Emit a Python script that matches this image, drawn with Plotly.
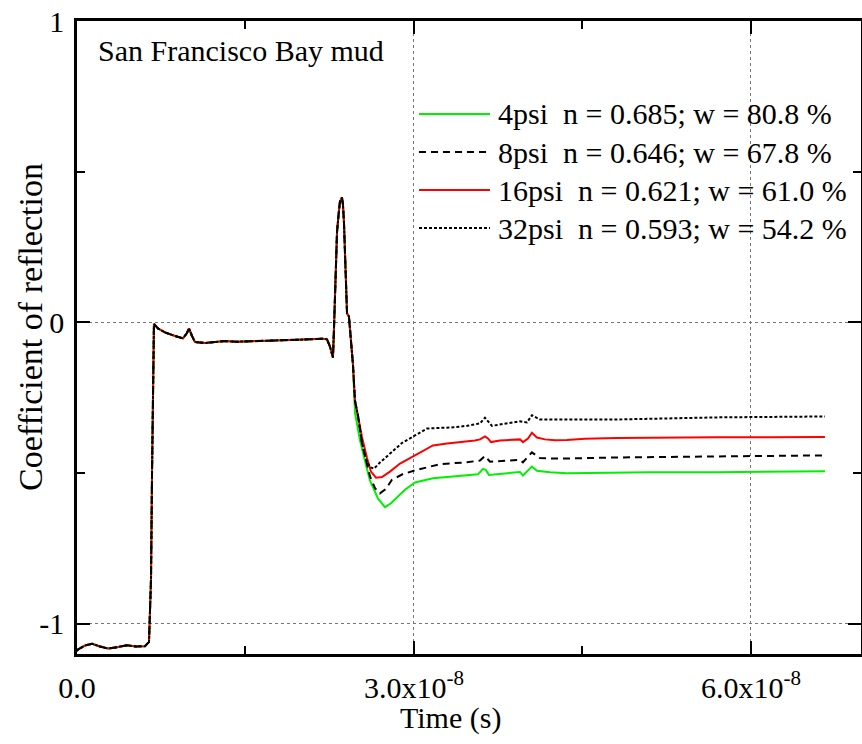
import plotly.graph_objects as go

# ---------------- data (time in units of 1e-8 s) ----------------
shared_time = [0.000, 0.009, 0.071, 0.134, 0.205, 0.276, 0.365, 0.445, 0.525, 0.605,
               0.641, 0.659, 0.668, 0.677, 0.685, 0.721, 0.783, 0.872, 0.944, 0.979,
               0.997, 1.024, 1.050, 1.139, 1.229, 1.318, 1.424, 1.540, 1.674, 1.807,
               1.941, 2.074, 2.181, 2.226, 2.252, 2.279, 2.288, 2.306, 2.315, 2.332,
               2.341, 2.359, 2.368, 2.377, 2.386, 2.395, 2.404, 2.421, 2.439, 2.457]
shared_refl = [-1.090, -1.085, -1.072, -1.066, -1.075, -1.082, -1.077, -1.071, -1.075, -1.074,
               -1.060, -0.850, -0.500, -0.150, -0.005, -0.020, -0.033, -0.045, -0.053, -0.035,
               -0.020, -0.045, -0.065, -0.068, -0.066, -0.062, -0.064, -0.063, -0.061, -0.060,
               -0.058, -0.056, -0.054, -0.056, -0.080, -0.116, -0.020, 0.200, 0.300, 0.370,
               0.400, 0.415, 0.390, 0.330, 0.200, 0.080, 0.030, 0.020, -0.050, -0.140]

psi4_time = [2.475, 2.519, 2.564, 2.608, 2.680, 2.742, 2.795, 2.849, 2.920, 3.009,
             3.169, 3.321, 3.472, 3.570, 3.614, 3.641, 3.668, 3.766, 3.899, 3.944,
             3.970, 4.006, 4.050, 4.095, 4.211, 4.362, 4.567, 4.807, 5.101, 5.697,
             6.169, 6.659]
psi4_refl = [-0.300, -0.390, -0.460, -0.524, -0.585, -0.613, -0.600, -0.580, -0.555, -0.531,
             -0.517, -0.512, -0.507, -0.504, -0.486, -0.490, -0.506, -0.502, -0.498, -0.496,
             -0.508, -0.495, -0.478, -0.492, -0.497, -0.500, -0.499, -0.497, -0.497, -0.497,
             -0.495, -0.494]

psi16_time = [2.475, 2.502, 2.537, 2.582, 2.617, 2.662, 2.715, 2.786, 2.876, 3.009,
              3.169, 3.294, 3.410, 3.543, 3.588, 3.632, 3.659, 3.686, 3.766, 3.855,
              3.944, 3.970, 4.015, 4.050, 4.095, 4.166, 4.255, 4.362, 4.522, 4.807,
              5.101, 5.697, 6.169, 6.436, 6.659]
psi16_refl = [-0.260, -0.310, -0.380, -0.450, -0.495, -0.515, -0.513, -0.495, -0.468, -0.441,
              -0.408, -0.402, -0.398, -0.392, -0.388, -0.378, -0.385, -0.397, -0.392, -0.390,
              -0.388, -0.397, -0.385, -0.366, -0.382, -0.388, -0.391, -0.390, -0.386, -0.383,
              -0.382, -0.381, -0.381, -0.380, -0.380]

psi8_time = [2.475, 2.502, 2.537, 2.573, 2.608, 2.653, 2.697, 2.751, 2.804, 2.902,
             3.009, 3.232, 3.472, 3.588, 3.632, 3.677, 3.810, 3.944, 3.970, 4.050,
             4.122, 4.300, 4.807, 5.697, 6.659]
psi8_refl = [-0.260, -0.310, -0.400, -0.460, -0.510, -0.550, -0.567, -0.552, -0.522, -0.503,
             -0.491, -0.470, -0.464, -0.458, -0.443, -0.462, -0.460, -0.456, -0.464, -0.431,
             -0.450, -0.452, -0.448, -0.445, -0.441]

psi32_time = [2.475, 2.502, 2.537, 2.573, 2.608, 2.644, 2.697, 2.786, 2.893, 3.009,
              3.116, 3.347, 3.472, 3.588, 3.632, 3.694, 3.810, 3.944, 4.006, 4.050,
              4.122, 4.478, 4.807, 5.697, 6.659]
psi32_refl = [-0.260, -0.310, -0.400, -0.455, -0.480, -0.485, -0.465, -0.435, -0.400, -0.375,
              -0.352, -0.348, -0.343, -0.335, -0.316, -0.343, -0.335, -0.328, -0.332, -0.308,
              -0.322, -0.321, -0.322, -0.315, -0.312]

series_labels = ["4psi\u00a0\u00a0n = 0.685; w = 80.8 %",
                 "8psi\u00a0\u00a0n = 0.646; w = 67.8 %",
                 "16psi\u00a0\u00a0n = 0.621; w = 61.0 %",
                 "32psi\u00a0\u00a0n = 0.593; w = 54.2 %"]

x_tick_vals = [0.0, 3.0e-8, 6.0e-8]
x_tick_text = ["0.0", "3.0x10<sup>-8</sup>", "6.0x10<sup>-8</sup>"]
x_minor_vals = [1.5e-8, 4.5e-8]
y_tick_vals = [-1, 0, 1]
y_tick_text = ["-1", "0", "1"]
y_minor_vals = [-0.5, 0.5]

# ---------------- figure ----------------
FONT = "Liberation Serif, Times New Roman, serif"
W, H = 862, 744
L, R, T, B = 77, 1, 21, 90
PW, PH = W - L - R, H - T - B


def px2paper(px, py):
    """pixel -> paper coordinates"""
    return (px - L) / PW, (H - B - py) / PH


styles = {
    "4psi": dict(color="#00f000", width=2, dash="solid"),
    "8psi": dict(color="black", width=2, dash="7px,5px"),
    "16psi": dict(color="#ff0000", width=2, dash="solid"),
    "32psi": dict(color="black", width=2, dash="3px,2px"),
}

data_map = {
    "4psi": (psi4_time, psi4_refl),
    "8psi": (psi8_time, psi8_refl),
    "16psi": (psi16_time, psi16_refl),
    "32psi": (psi32_time, psi32_refl),
}

fig = go.Figure()
for name in ["4psi", "16psi", "8psi", "32psi"]:
    tt, rr = data_map[name]
    t_all = [v * 1e-8 for v in shared_time + tt]
    r_all = shared_refl + rr
    fig.add_trace(go.Scatter(x=t_all, y=r_all, mode="lines", name=name,
                             line=styles[name], showlegend=False))

# manual legend (long sample lines like the original)
legend_rows = [114, 152, 190, 228]
shapes = []
annotations = []
for key, label, row in zip(["4psi", "8psi", "16psi", "32psi"], series_labels, legend_rows):
    x0, y0 = px2paper(419, row)
    x1, _ = px2paper(490, row)
    shapes.append(dict(type="line", xref="paper", yref="paper", x0=x0, x1=x1, y0=y0, y1=y0,
                       line=styles[key]))
    tx, ty = px2paper(496, row)
    annotations.append(dict(text=label, x=tx, y=ty, xref="paper", yref="paper",
                            xanchor="left", yanchor="middle", showarrow=False,
                            font=dict(family=FONT, size=30, color="black")))

ax, ay = px2paper(96, 50)
annotations.append(dict(text="San Francisco Bay mud", x=ax, y=ay, xref="paper", yref="paper",
                        xanchor="left", yanchor="middle", showarrow=False,
                        font=dict(family=FONT, size=30, color="black")))

yx, yy = px2paper(30, 327)
annotations.append(dict(text="Coefficient of reflection", x=yx, y=yy, xref="paper", yref="paper",
                        xanchor="center", yanchor="middle", textangle=-90, showarrow=False,
                        font=dict(family=FONT, size=34, color="black")))

xx, xy = px2paper(450, 718)
annotations.append(dict(text="Time (s)", x=xx, y=xy, xref="paper", yref="paper",
                        xanchor="center", yanchor="middle", showarrow=False,
                        font=dict(family=FONT, size=30, color="black")))

axis_common = dict(
    showline=True, linecolor="black", linewidth=2.5, mirror="ticks",
    ticks="inside", ticklen=13, tickwidth=2, tickcolor="black",
    showgrid=True, gridcolor="#777777", gridwidth=1.2, griddash="dot",
    zeroline=False, tickfont=dict(family=FONT, size=30, color="black"),
    automargin=False, ticklabeloverflow="allow",
)

fig.update_xaxes(**axis_common, range=[0, 6.98e-8], tickmode="array",
                 tickvals=x_tick_vals, ticktext=x_tick_text, ticklabelstandoff=5,
                 minor=dict(tickmode="array", tickvals=x_minor_vals, ticks="inside",
                            ticklen=8, tickwidth=2, tickcolor="black", showgrid=False))
fig.update_yaxes(**axis_common, range=[-1.1, 1.0], tickmode="array",
                 tickvals=y_tick_vals, ticktext=y_tick_text, ticklabelstandoff=4,
                 minor=dict(tickmode="array", tickvals=y_minor_vals, ticks="inside",
                            ticklen=8, tickwidth=2, tickcolor="black", showgrid=False))

fig.update_layout(
    width=W, height=H,
    margin=dict(l=L, r=R, t=T, b=B, pad=0),
    paper_bgcolor="white", plot_bgcolor="white",
    shapes=shapes, annotations=annotations,
    showlegend=False,
)

# remove the browser's default 8px page margin so the figure fills the window exactly
fig.write_html("out.html",
               config={"displayModeBar": False},
               post_script="document.body.style.margin='0';document.body.style.overflow='hidden';")
